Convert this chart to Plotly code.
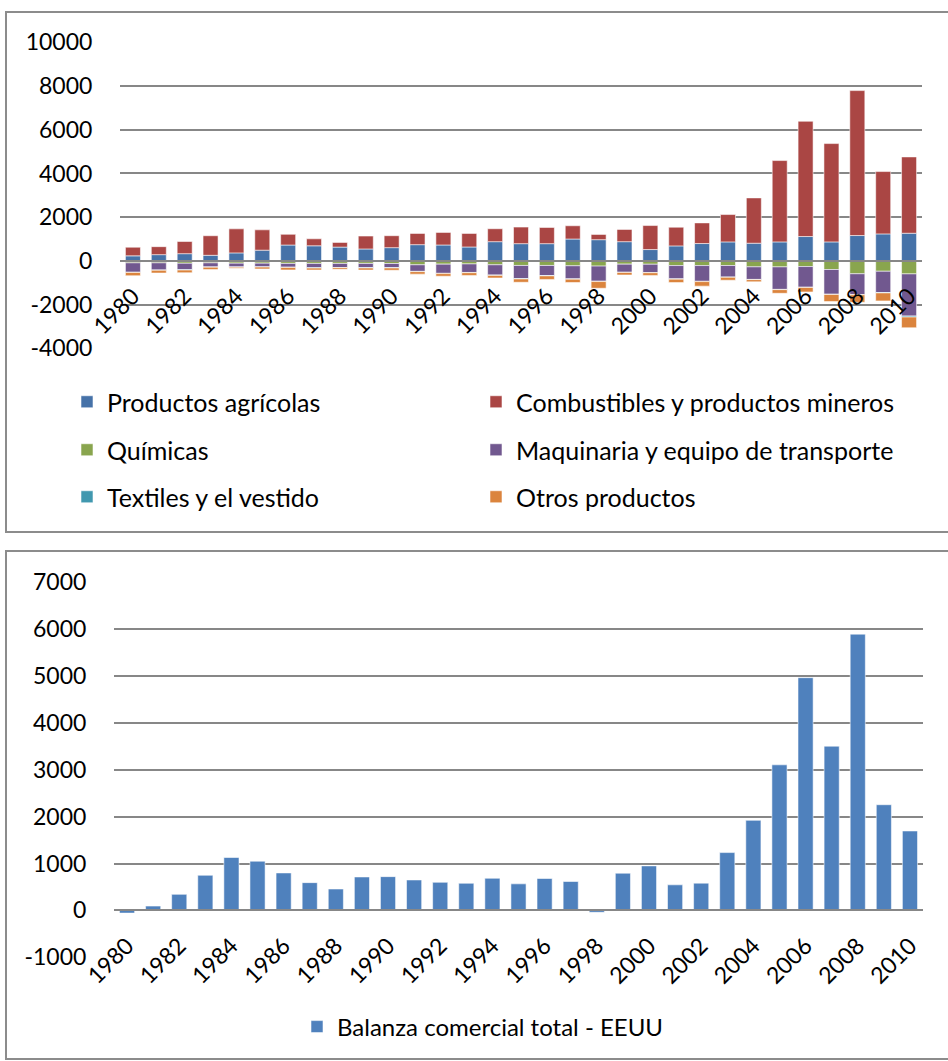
import plotly.graph_objects as go

# ---- data -------------------------------------------------------------
years = list(range(1980, 2011))

agricolas = [230, 285, 330, 255, 365, 490, 725, 690, 630, 545, 606, 742, 727, 636, 879, 788,
             788, 1000, 970, 879, 518, 686, 793, 869, 808, 869, 1113, 869, 1159, 1235, 1265]
combustibles = [395, 365, 555, 895, 1100, 930, 490, 320, 215, 590, 545, 515, 576, 621, 591, 758,
                742, 606, 242, 561, 1098, 854, 945, 1250, 2073, 3720, 5274, 4497, 6631, 2851, 3491]
quimicas = [-90, -90, -110, -90, -105, -105, -115, -115, -115, -115, -120, -180, -150, -140, -180, -210,
            -210, -225, -240, -150, -155, -215, -215, -213, -274, -275, -260, -395, -590, -475, -595]
maquinaria = [-430, -330, -300, -190, -175, -170, -175, -205, -190, -200, -195, -300, -420, -390, -470, -605,
              -465, -600, -690, -370, -380, -610, -720, -530, -575, -1030, -945, -1130, -950, -975, -1930]
textiles = [-10, -12, -12, -10, -8, -10, -10, -10, -8, -10, -10, -12, -13, -12, -14, -14,
            -12, -14, -16, -10, -10, -12, -14, -10, -10, -12, -12, -14, -14, -16, -46]
otros = [-150, -125, -120, -110, -48, -85, -115, -87, -75, -96, -105, -115, -120, -125, -120, -150,
         -162, -150, -306, -116, -121, -157, -207, -132, -100, -166, -205, -323, -342, -365, -490]

balanza = [-57, 93, 343, 750, 1129, 1050, 800, 593, 457, 714, 721, 650, 600, 579, 686, 567,
           681, 617, -40, 794, 950, 546, 582, 1234, 1922, 3106, 4965, 3504, 5894, 2255, 1695]

top_ticks = [-4000, -2000, 0, 2000, 4000, 6000, 8000, 10000]
bottom_ticks = [-1000, 0, 1000, 2000, 3000, 4000, 5000, 6000, 7000]
year_ticks = list(range(1980, 2011, 2))

series_names = ["Productos agrícolas", "Combustibles y productos mineros", "Químicas",
                "Maquinaria y equipo de transporte", "Textiles y el vestido", "Otros productos"]
series_values = [agricolas, combustibles, quimicas, maquinaria, textiles, otros]
series_colors = ["#4672A8", "#AA4644", "#89A54E", "#71588F", "#4198AF", "#DB843D"]

# ---- geometry (pixels) ------------------------------------------------
W, H = 948, 1061
FONT = "Lato"
GRID = "#878787"


def fy(px):
    return 1 - px / H


def fx(px):
    return px / W


top_dom = [fy(348.3), fy(42.3)]
bot_dom = [fy(957.3), fy(582.3)]
top_zero = top_dom[0] + (0 - top_ticks[0]) / (top_ticks[-1] - top_ticks[0]) * (top_dom[1] - top_dom[0])
bot_zero = bot_dom[0] + (0 - bottom_ticks[0]) / (bottom_ticks[-1] - bottom_ticks[0]) * (bot_dom[1] - bot_dom[0])

# legend slots: two columns, three rows under the upper chart
legend_cols = [67, 476]
legend_rows = [402, 450, 497]
legend_layout = {}

fig = go.Figure()

for i, (name, vals, color) in enumerate(zip(series_names, series_values, series_colors)):
    key = "legend" if i == 0 else f"legend{i + 1}"
    legend_layout[key] = dict(
        x=fx(legend_cols[i % 2]), y=fy(legend_rows[i // 2]),
        xanchor="left", yanchor="middle", orientation="h",
        font=dict(family=FONT, size=25, color="#000"),
        bgcolor="rgba(0,0,0,0)", itemclick=False,
    )
    fig.add_trace(go.Bar(
        x=years, y=vals, name=name, legend=key,
        marker=dict(color=color, line=dict(color="rgba(255,255,255,0.55)", width=1)),
        xaxis="x", yaxis="y",
    ))

legend_layout["legend7"] = dict(
    x=fx(297), y=fy(1027), xanchor="left", yanchor="middle", orientation="h",
    font=dict(family=FONT, size=24, color="#000"),
    bgcolor="rgba(0,0,0,0)", itemclick=False,
)
fig.add_trace(go.Bar(
    x=years, y=balanza, name="Balanza comercial total - EEUU", legend="legend7",
    marker=dict(color="#4F81BD", line=dict(color="rgba(255,255,255,0.55)", width=1)),
    xaxis="x2", yaxis="y2",
))

xcommon = dict(
    range=[1979.5, 2010.5], tickvals=year_ticks, ticktext=[str(v) for v in year_ticks],
    tickangle=-45, showgrid=False, zeroline=False,
    showline=True, linecolor=GRID, linewidth=1.6,
    ticks="outside", ticklen=12, tickcolor="rgba(0,0,0,0)",
    tickfont=dict(family=FONT, size=23, color="#000"),
    anchor="free", automargin=False,
)
ycommon = dict(
    showgrid=True, gridcolor=GRID, gridwidth=1.6, zeroline=False, showline=False,
    ticks="outside", ticklen=22, tickcolor="rgba(0,0,0,0)",
    tickfont=dict(family=FONT, size=23, color="#000"),
    automargin=False,
)

fig.update_layout(
    width=W, height=H,
    margin=dict(l=0, r=0, t=0, b=0, autoexpand=False),
    paper_bgcolor="white", plot_bgcolor="white",
    barmode="relative", bargap=0.42,
    xaxis=dict(domain=[fx(120), fx(922)], position=top_zero, **xcommon),
    yaxis=dict(domain=top_dom, range=[top_ticks[0], top_ticks[-1]], anchor="x",
               tickvals=top_ticks, ticktext=[str(v) for v in top_ticks], **ycommon),
    xaxis2=dict(domain=[fx(114), fx(923)], position=bot_zero, **xcommon),
    yaxis2=dict(domain=bot_dom, range=[bottom_ticks[0], bottom_ticks[-1]], anchor="x2",
                tickvals=bottom_ticks, ticktext=[str(v) for v in bottom_ticks], **ycommon),
    showlegend=True,
    shapes=[
        dict(type="rect", xref="paper", yref="paper", x0=fx(6), x1=1.02, y0=fy(532), y1=fy(12),
             line=dict(color="#8C8C8C", width=2), layer="below"),
        dict(type="rect", xref="paper", yref="paper", x0=fx(6), x1=1.02, y0=fy(1059), y1=fy(551),
             line=dict(color="#8C8C8C", width=2), layer="below"),
    ],
    **legend_layout,
)

fig.write_html("out.html")
